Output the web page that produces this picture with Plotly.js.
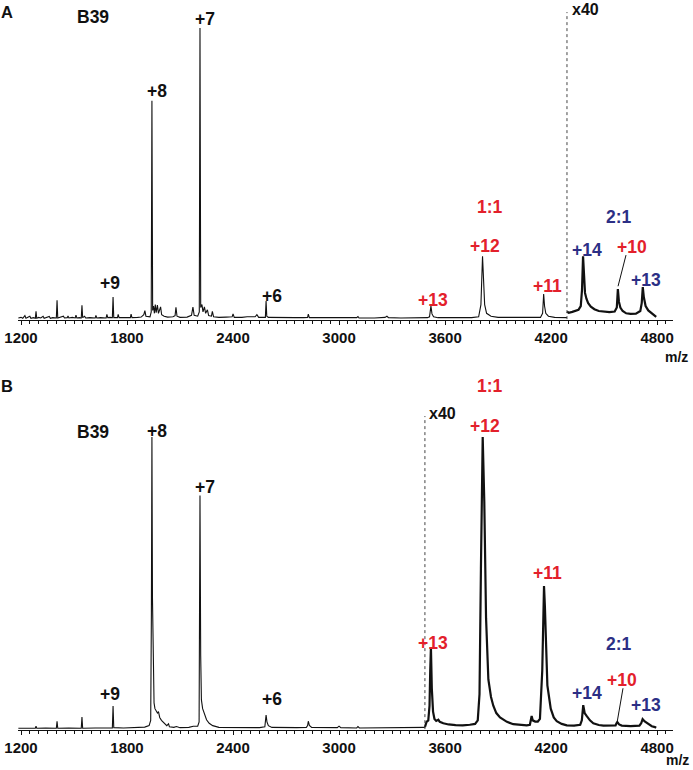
<!DOCTYPE html>
<html>
<head>
<meta charset="utf-8">
<script src="https://cdn.plot.ly/plotly-3.0.1.min.js"></script>
<style>
  body { margin: 0; background: #fff; }
  #chart { width: 693px; height: 770px; }
</style>
</head>
<body>
<div id="chart"></div>
<script>
// spectrum A, normal scale (m/z, relative intensity)
var mzA = [1185,1200,1210,1222,1228,1240,1250,1256,1270,1281,1285,1289,1300,1312,1325,1331,1345,1360,1366,1380,1400,1404,1408,1420,1440,1446,1462,1466,1471,1490,1507,1511,1516,1530,1541,1545,1549,1560,1566,1590,1620,1624,1629,1650,1682,1686,1691,1705,1717,1721,1725,1746,1750,1755,1780,1800,1819,1823,1828,1860,1880,1895,1901,1907,1930,1937,1941,1945,1950,1955,1960,1965,1972,1978,1990,1996,2010,2030,2060,2072,2077,2083,2100,2140,2165,2173,2180,2200,2209,2213,2217,2224,2230,2238,2245,2255,2262,2278,2283,2290,2320,2360,2395,2400,2407,2450,2480,2525,2535,2545,2583,2587,2591,2600,2650,2700,2750,2800,2822,2826,2832,2880,2950,3000,3050,3100,3107,3113,3200,3260,3271,3280,3350,3420,3500,3512,3520,3526,3535,3560,3650,3750,3790,3803,3812,3818,3824,3835,3860,3900,4000,4080,4140,4152,4158,4163,4170,4185,4220,4290];
var intA = [0.4,0.6,0.3,1.2,0.3,0.6,1.0,0.3,0.5,0.3,2.7,0.3,0.6,0.4,1.0,0.3,0.5,0.9,0.3,0.5,0.4,6.5,0.4,0.6,1.0,0.4,0.5,1.1,0.4,0.6,0.4,1.4,0.4,0.5,0.4,4.8,0.5,1.0,0.4,0.5,0.4,1.3,0.4,0.5,0.4,1.6,0.5,0.6,0.5,7.6,0.5,0.5,1.6,0.5,0.6,0.5,0.5,1.7,0.5,0.6,0.7,1.5,2.9,1.0,0.8,2.5,75,3.0,4.5,2.0,5.0,2.2,4.8,2.0,4.2,1.5,1.0,0.7,0.8,1.2,4.1,1.0,0.6,0.7,1.3,4.1,1.3,1.0,2.5,100,4.0,5.0,2.5,4.2,2.0,3.2,1.2,1.0,2.7,0.8,0.6,0.7,0.8,1.8,0.6,0.6,0.8,0.8,1.5,0.6,0.6,6.2,1.0,0.6,0.5,0.6,0.5,0.5,0.6,1.7,0.5,0.5,0.5,0.4,0.5,0.5,0.9,0.4,0.4,0.6,1.0,0.5,0.4,0.4,0.5,0.8,4.5,1.8,0.8,0.5,0.4,0.5,0.8,5,21.6,14,5,2.0,1.0,0.6,0.5,0.5,0.6,2.0,8.6,4.5,2.0,1.0,0.6,0.5];

// spectrum A, x40 segment
var mzA40 = [4290,4300,4320,4340,4355,4368,4375,4381,4386,4392,4400,4410,4425,4445,4470,4500,4530,4560,4572,4578,4584,4592,4605,4625,4650,4680,4705,4713,4719,4725,4735,4750,4770,4785,4795];
var intA40 = [2.6,2.2,2.5,2.8,3.2,4.5,10,21.6,14,9,7,5.5,4.3,3.4,2.8,2.5,2.4,2.6,4,10.3,6,4,2.8,2.0,1.8,1.9,2.8,5.5,11,7.5,4.5,3.0,2.0,1.2,0.8];

// spectrum B, normal scale
var mzB = [1185,1230,1281,1285,1289,1340,1400,1404,1408,1470,1541,1545,1549,1620,1680,1717,1721,1725,1780,1850,1900,1925,1934,1938,1941,1944,1948,1953,1958,1965,1972,1978,1985,1995,2010,2025,2035,2040,2065,2080,2100,2150,2175,2200,2208,2213,2217,2221,2228,2238,2250,2265,2285,2320,2400,2480,2550,2580,2587,2592,2600,2620,2700,2760,2815,2822,2826,2832,2845,2900,2960,2990,3000,3010,3100,3107,3115,3200,3300,3400,3486];
var intB = [0.3,0.4,0.3,1.0,0.3,0.4,0.3,2.7,0.3,0.4,0.3,4.1,0.3,0.4,0.4,0.4,7.9,0.5,0.4,0.5,0.7,1.2,3,40,100,45,15,9,7,6,5.5,6,4,3,2,1.2,1.8,0.8,0.6,0.9,0.5,0.6,1.0,1.0,2.5,80,25,10,7,5,3.2,2,1.2,0.6,0.5,0.5,0.5,0.8,4.8,2.5,1.2,0.6,0.4,0.5,0.6,1.2,2.7,1.3,0.6,0.5,0.4,0.5,1.0,0.5,0.4,0.9,0.4,0.4,0.4,0.5,0.6];

// spectrum B, x40 segment
var mzB40 = [3486,3495,3505,3512,3516,3520,3525,3532,3540,3550,3562,3570,3590,3620,3660,3700,3740,3770,3785,3795,3803,3813,3822,3832,3845,3860,3873,3890,3911,3950,3986,4030,4062,4080,4086,4090,4096,4110,4125,4137,4150,4155,4160,4165,4169,4179,4198,4215,4232,4260,4289,4330,4365,4374,4382,4390,4401,4420,4439,4470,4496,4540,4565,4570,4575,4585,4600,4650,4700,4710,4718,4730,4750,4770,4788,4795];
var intB40 = [0.7,2.5,3,8,20,28,14,6,3.5,2.8,3.2,2.5,2.0,1.6,1.4,1.3,1.5,1.8,3,12,55,100,78,38,17,11,8,5.5,4,2.5,1.7,1.4,1.3,1.5,4.0,4.5,3.0,2.6,2.6,3.5,20,35,49,42,32,15,7,4,2.7,1.8,1.3,1.2,1.5,3,8.2,5.5,4.5,3,2,1.4,1.2,1.1,1.3,2.0,2.4,1.6,1.2,1.0,1.2,2.0,3.4,2.6,1.7,1.0,0.7,0.5];

var tickVals = [1200, 1800, 2400, 3000, 3600, 4200, 4800];
var RED = '#e3202b', BLUE = '#2c2f85', BLACK = '#111';
var FONT = 'Liberation Sans, Arial, sans-serif';

function lineTrace(x, y, xa, ya, w) {
  return {type: 'scatter', mode: 'lines', x: x, y: y, xaxis: xa, yaxis: ya,
          line: {color: BLACK, width: w}, hoverinfo: 'skip', showlegend: false};
}

var data = [
  lineTrace(mzA, intA, 'x', 'y', 1.1),
  lineTrace(mzA40, intA40, 'x', 'y', 2.2),
  lineTrace(mzB, intB, 'x2', 'y2', 1.1),
  lineTrace(mzB40, intB40, 'x2', 'y2', 2.2)
];

function xAxis(anchor) {
  return {
    domain: [18/693, 673/693], range: [1183, 4890], anchor: anchor,
    showgrid: false, zeroline: false, showline: true, linecolor: BLACK, linewidth: 1,
    tickmode: 'array', tickvals: tickVals, ticks: 'outside', ticklen: 4, tickcolor: BLACK,
    tickfont: {family: FONT, size: 15, color: BLACK, weight: 700},
    minor: {tick0: 1200, dtick: 50, ticks: 'outside', ticklen: 3, tickcolor: BLACK, showgrid: false},
    fixedrange: true
  };
}
function yAxis(dom, top, anchor) {
  return {domain: dom, range: [-0.3, top], anchor: anchor, visible: false, fixedrange: true};
}

function lab(text, x, y, color, xr, yr, size) {
  return {text: text, x: x, y: y, xref: xr, yref: yr, showarrow: false,
          xanchor: 'center', yanchor: 'middle',
          font: {family: FONT, size: size || 17.5, color: color, weight: 700}};
}
// paper position from pixel position
function px(x) { return x / 693; }
function py(y) { return 1 - y / 770; }

var annotations = [
  lab('A', px(7), py(12), BLACK, 'paper', 'paper', 16.5),
  lab('B39', 1607, 103.8, BLACK, 'x', 'y'),
  lab('+7', 2241, 103.1, BLACK, 'x', 'y'),
  lab('+8', 1970, 78.4, BLACK, 'x', 'y'),
  lab('+9', 1704, 12.4, BLACK, 'x', 'y'),
  lab('+6', 2620, 7.9, BLACK, 'x', 'y'),
  lab('+13', 3532, 6.5, RED, 'x', 'y'),
  lab('+12', 3826, 25.1, RED, 'x', 'y'),
  lab('1:1', 3854, 38.5, RED, 'x', 'y'),
  lab('+11', 4177, 11.3, RED, 'x', 'y'),
  lab('x40', 4392, 106.5, BLACK, 'x', 'y', 16),
  lab('+14', 4403, 23.7, BLUE, 'x', 'y'),
  lab('+10', 4658, 24.7, RED, 'x', 'y'),
  lab('+13', 4737, 13.4, BLUE, 'x', 'y'),
  lab('2:1', 4584, 35.1, BLUE, 'x', 'y'),
  lab('m/z', px(676), py(357), BLACK, 'paper', 'paper', 14),

  lab('B', px(7), py(386), BLACK, 'paper', 'paper', 16.5),
  lab('B39', 1607, 101.7, BLACK, 'x2', 'y2'),
  lab('+8', 1970, 102.1, BLACK, 'x2', 'y2'),
  lab('+7', 2241, 82.9, BLACK, 'x2', 'y2'),
  lab('+9', 1704, 12.0, BLACK, 'x2', 'y2'),
  lab('+6', 2620, 10.3, BLACK, 'x2', 'y2'),
  lab('1:1', px(490), py(386), RED, 'paper', 'paper'),
  lab('x40', 3588, 108.2, BLACK, 'x2', 'y2', 16),
  lab('+12', 3826, 103.8, RED, 'x2', 'y2'),
  lab('+11', 4177, 53.4, RED, 'x2', 'y2'),
  lab('+13', 3532, 29.5, RED, 'x2', 'y2'),
  lab('2:1', 4584, 29.1, BLUE, 'x2', 'y2'),
  lab('+10', 4601, 16.8, RED, 'x2', 'y2'),
  lab('+14', 4403, 12.3, BLUE, 'x2', 'y2'),
  lab('+13', 4737, 8.2, BLUE, 'x2', 'y2'),
  lab('m/z', px(677), py(760), BLACK, 'paper', 'paper', 14)
];

var shapes = [
  // x40 boundaries
  {type: 'line', xref: 'x', yref: 'y', x0: 4290, x1: 4290, y0: 0, y1: 105.5,
   line: {color: '#444', width: 1, dash: 'dot'}},
  {type: 'line', xref: 'x2', yref: 'y2', x0: 3486, x1: 3486, y0: 0, y1: 107.2,
   line: {color: '#444', width: 1, dash: 'dot'}},
  // leader lines to +10
  {type: 'line', xref: 'x', yref: 'y', x0: 4624, x1: 4579, y0: 22.0, y1: 11.3,
   line: {color: BLACK, width: 1}},
  {type: 'line', xref: 'x2', yref: 'y2', x0: 4607, x1: 4573, y0: 14.0, y1: 2.1,
   line: {color: BLACK, width: 1}}
];

var layout = {
  width: 693, height: 770,
  margin: {l: 0, r: 0, t: 0, b: 0},
  paper_bgcolor: '#fff', plot_bgcolor: '#fff',
  showlegend: false,
  xaxis: xAxis('y'),
  yaxis: yAxis([1 - 320/770, 1 - 8/770], 106.9, 'x'),
  xaxis2: xAxis('y2'),
  yaxis2: yAxis([1 - 730/770, 1 - 400/770], 112.7, 'x2'),
  annotations: annotations,
  shapes: shapes
};

Plotly.newPlot('chart', data, layout, {staticPlot: true, displayModeBar: false});
</script>
</body>
</html>
